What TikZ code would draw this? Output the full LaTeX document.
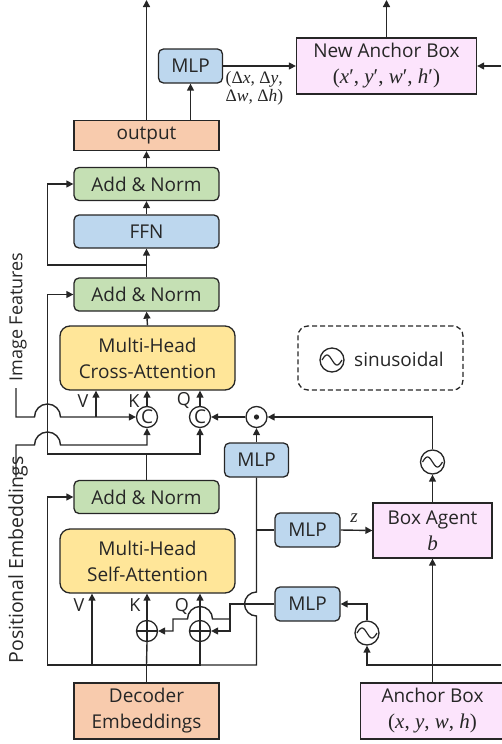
\documentclass[tikz,border=0pt]{standalone}
\usepackage{fontspec}
\setmainfont{Open Sans}
\newfontfamily\mathserif{Liberation Serif}
\usetikzlibrary{arrows.meta}
\definecolor{peach}{HTML}{F8CBAD}
\definecolor{mint}{HTML}{C5E0B4}
\definecolor{sky}{HTML}{BDD7EE}
\definecolor{butter}{HTML}{FFE699}
\definecolor{lilac}{HTML}{FCE4FC}
\definecolor{ink}{HTML}{262626}

% italic serif variables set as text
\newcommand\vr[1]{\textit{#1}}
\newcommand\mathline[2]{{\mathserif\fontsize{#1}{#1}\selectfont #2}}

\tikzset{
  shapebase/.style={draw=ink, line width=1.3pt, text=ink, align=center, inner sep=0pt,
    font=\fontsize{19}{26}\selectfont},
  rbox/.style={shapebase, rounded corners=5pt},
  addnorm/.style={rbox, fill=mint, minimum width=145pt, minimum height=33pt},
  ffnbox/.style={rbox, fill=sky, minimum width=145pt, minimum height=33pt},
  mlpbox/.style={rbox, fill=sky, minimum width=64pt, minimum height=34pt},
  attbox/.style={shapebase, rounded corners=10pt, fill=butter, minimum width=175pt, minimum height=64pt},
  embbox/.style={shapebase, fill=peach},
  ancbox/.style={shapebase, fill=lilac},
  opnode/.style={shapebase, circle, fill=white, minimum size=21pt},
  sinnode/.style={shapebase, circle, fill=white, minimum size=24pt},
  lbl/.style={text=ink, font=\fontsize{18}{20}\selectfont, inner sep=0pt},
  arr/.style={-{Triangle[length=7pt,width=7pt]}},
}
% sine wave glyph inside a circular node
\newcommand\sinewave[1]{%
  \draw[line width=1.2pt, shift={(#1.center)}]
    plot[domain=-10:10, samples=41, smooth] (\x,{-5*sin(18*(\x+10))});}
% cross inside a circular node
\newcommand\pluscross[1]{%
  \draw[line width=1.2pt] ([yshift=10.5pt]#1.center) -- ([yshift=-10.5pt]#1.center)
    ([xshift=-10.5pt]#1.center) -- ([xshift=10.5pt]#1.center);}

\begin{document}
\begin{tikzpicture}[x=1pt, y=-1pt, line width=1.4pt, color=ink]
\useasboundingbox (0,0) rectangle (501,744);

% ---------- nodes ----------
\node[embbox, minimum width=145pt, minimum height=30pt] (out) at (146.5,135.5) {output};
\node[mlpbox] (mlpT) at (190.5,66) {MLP};
\node[ancbox, minimum width=180pt, minimum height=56pt] (nab) at (386.5,66)
  {New Anchor Box\\\mathline{21}{(\vr{x}′, \vr{y}′, \vr{w}′, \vr{h}′)}};
\node[addnorm] (an1) at (146.5,184) {Add \& Norm};
\node[ffnbox] (ffn) at (146.5,231.5) {FFN};
\node[addnorm] (an2) at (146.5,294.5) {Add \& Norm};
\node[attbox] (ca) at (147.5,358) {Multi-Head\\Cross-Attention};
\node[opnode] (c1) at (147,417) {C};
\node[opnode] (c2) at (200,417) {C};
\node[opnode] (dot) at (256.5,417) {};
\fill (dot.center) circle[radius=2.6pt];
\node[mlpbox] (mlpA) at (256.5,460) {MLP};
\node[addnorm] (an3) at (146.5,497) {Add \& Norm};
\node[attbox] (sa) at (147.5,561) {Multi-Head\\Self-Attention};
\node[opnode] (pk) at (147,631) {};
\node[opnode] (pq) at (200,631) {};
\pluscross{pk}
\pluscross{pq}
\node[mlpbox, minimum width=65pt] (mlpZ) at (307.5,530) {MLP};
\node[mlpbox, minimum width=65pt] (mlpP) at (307.5,604) {MLP};
\node[ancbox, minimum width=119pt, minimum height=55pt] (ba) at (432.5,530.5)
  {Box Agent\\\mathline{21}{\vr{b}}};
\node[sinnode] (sin1) at (432.5,462) {};
\sinewave{sin1}
\node[sinnode] (sin2) at (367,633) {};
\sinewave{sin2}
\node[embbox, minimum width=145pt, minimum height=56pt] (dec) at (146.5,711)
  {Decoder\\Embeddings};
\node[ancbox, minimum width=144pt, minimum height=56pt] (ab) at (432.5,711)
  {Anchor Box\\\mathline{21}{(\vr{x}, \vr{y}, \vr{w}, \vr{h})}};

% legend
\node[draw=ink, line width=1.3pt, dash pattern=on 5pt off 3pt, rounded corners=10pt,
  minimum width=165pt, minimum height=64pt] (legend) at (380.5,358) {};
\node[sinnode] (legsin) at (332,360) {};
\sinewave{legsin}
\node[lbl, font=\fontsize{19}{22}\selectfont] (legtxt) at (399,359) {sinusoidal};

% side labels
\node[lbl, rotate=90] (imgF) at (18,317) {Image Features};
\node[lbl, rotate=90, font=\fontsize{19.5}{20}\selectfont] (posE) at (18,560) {Positional Embeddings};

% port labels
\node[lbl] (vC) at (83,401) {V};
\node[lbl] (kC) at (134,401) {K};
\node[lbl] (qC) at (184,400) {Q};
\node[lbl] (vS) at (79,605) {V};
\node[lbl] (kS) at (135,605) {K};
\node[lbl] (qS) at (182,606) {Q};
\node[lbl, anchor=north west, align=left, font=\mathserif\fontsize{17.5}{18}\selectfont] (dlt) at (225,71)
  {(Δ\vr{x}, Δ\vr{y},\\Δ\vr{w}, Δ\vr{h})};
\node[lbl, font=\mathserif\fontsize{19}{20}\selectfont] (zl) at (354,518) {\vr{z}};

% ---------- coordinates ----------
\coordinate (exitL) at (146.5,0);
\coordinate (exitR) at (386.5,0);
\coordinate (edgeT) at (501,66);
\coordinate (edgeB) at (501,665);
\coordinate (rail) at (47.5,0);
\coordinate (sk1) at (146.5,265);
\coordinate (sk2) at (146.5,454);
\coordinate (bus) at (146.5,665);
\coordinate (imgIn) at (16,388);
\coordinate (posIn) at (16,477);

% ---------- top ----------
\draw[arr] (out.north) -- (exitL);
\draw[arr] (out.north -| mlpT.south) -- (mlpT.south);
\draw[arr] (mlpT.east) -- (nab.west);
\draw[arr] (nab.north) -- (exitR);
\draw[arr] (edgeT) -- (nab.east);
\draw[arr] (an1.north) -- (out.south);
\draw[arr] (ffn.north) -- (an1.south);
\draw[arr] (an2.north) -- (ffn.south);
\draw[arr] (sk1) -- (sk1 -| rail) |- (an1.west);
\draw[arr] (ca.north) -- (an2.south);

% ---------- cross-attention inputs ----------
\draw (an3.north) -- (sk2);
\draw[arr] (sk2) -- (sk2 -| rail) |- (an2.west);
\draw[arr] (sk2) -| (c2.south);
\draw[arr] (c1.north) -- (c1.north |- ca.south);
\draw[arr] (c2.north) -- (c2.north |- ca.south);
\draw[arr] (dot.west) -- (c2.east);
\draw[arr] (mlpA.north) -- (dot.south);
\draw[arr] (sin1.north) |- (dot.east);
\draw[arr] (ba.north) -- (sin1.south);

% image features, hopping over the skip rail
\draw[arr] (imgIn) -- (16,417) -- (34.5,417)
  .. controls (34.5,409.8) and (40.3,404) .. (47.5,404)
  .. controls (54.7,404) and (60.5,409.8) .. (60.5,417) -- (c1.west);
\draw[arr] (96,417) -- (96,417 |- ca.south);
% positional embeddings, hopping over the skip rail
\draw[arr] (posIn) -- (16,445) -- (34.5,445)
  .. controls (34.5,437.8) and (40.3,432) .. (47.5,432)
  .. controls (54.7,432) and (60.5,437.8) .. (60.5,445) -- (147,445) -- (c1.south);

% ---------- self-attention inputs ----------
\draw (dec.north) -- (bus);
\draw[arr] (bus) -- (bus -| rail) |- (an3.west);
\draw[arr] (92,665) -- (92,665 |- sa.south);
\draw (bus) -- (pk.south);
\draw[arr] (pk.north) -- (pk.north |- sa.south);
\draw (bus) -| (pq.south);
\draw[arr] (pq.north) -- (pq.north |- sa.south);
% content branch to the MLPs, hopping over the positional line
\draw (bus) -- (256.5,665) -- (256.5,616)
  .. controls (249.9,616) and (244.5,610.6) .. (244.5,604)
  .. controls (244.5,597.4) and (249.9,592) .. (256.5,592) -- (mlpA.south);
\draw (256.5,530) -- (mlpZ.west);
\draw[arr] (mlpZ.east) -- (ba.west);

% positional query added to K and Q
\draw[arr] (sin2.north) |- (mlpP.east);
\draw[arr] (mlpP.west) -- (230,604) -- (230,631) -- (pq.east);
\draw[arr] (230,619) -- (212.5,619)
  .. controls (212.5,612.1) and (206.9,606.5) .. (200,606.5)
  .. controls (193.1,606.5) and (187.5,612.1) .. (187.5,619)
  -- (173,619) -- (173,631) -- (pk.east);

% ---------- anchor box ----------
\draw[arr] (ab.north) -- (ba.south);
\draw[arr] (edgeB) -| (sin2.south);
\end{tikzpicture}
\end{document}
